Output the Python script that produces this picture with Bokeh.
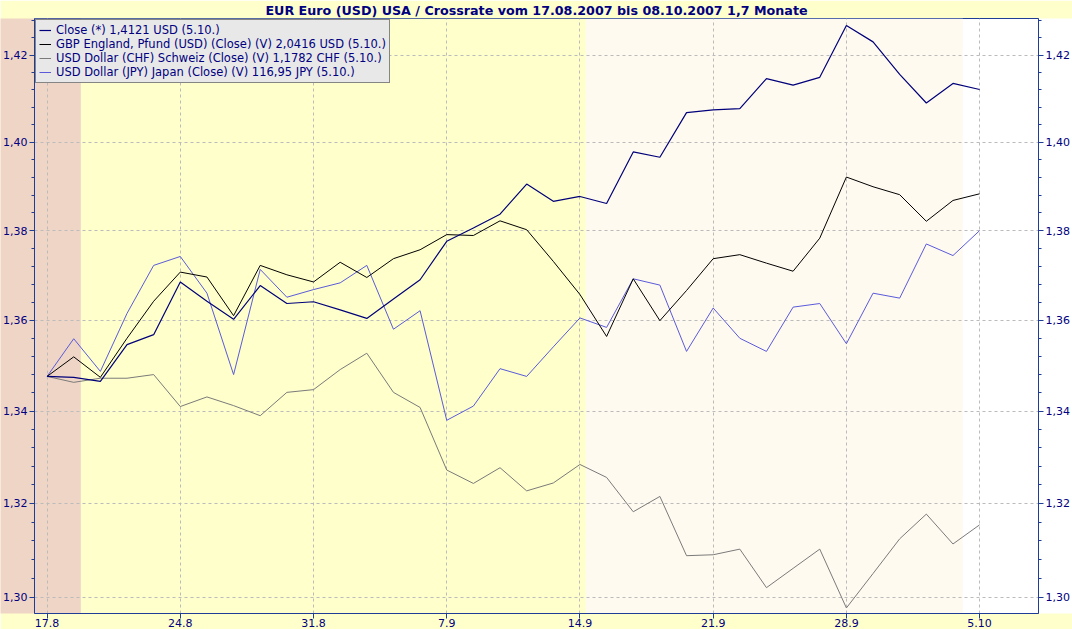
import numpy as np
from bokeh.plotting import figure
from bokeh.models import (Range1d, FixedTicker, LogAxis, BoxAnnotation, Legend,
                          LegendItem)
from bokeh.embed import file_html
from bokeh.resources import INLINE

# ---------------- data ----------------
days = ["17.8", "20.8", "21.8", "22.8", "23.8", "24.8", "27.8", "28.8", "29.8",
        "30.8", "31.8", "3.9", "4.9", "5.9", "6.9", "7.9", "10.9", "11.9",
        "12.9", "13.9", "14.9", "17.9", "18.9", "19.9", "20.9", "21.9", "24.9",
        "25.9", "26.9", "27.9", "28.9", "1.10", "2.10", "3.10", "4.10", "5.10"]

x_tick_labels = ["17.8", "24.8", "31.8", "7.9", "14.9", "21.9", "28.9", "5.10"]

y_ticks = [1.30, 1.32, 1.34, 1.36, 1.38, 1.40, 1.42]
y_tick_labels = ["1,30", "1,32", "1,34", "1,36", "1,38", "1,40", "1,42"]

eur_usd = [1.3476, 1.3474, 1.3465, 1.3546, 1.3568, 1.3685, 1.3642, 1.3602,
           1.3677, 1.3637, 1.3641, 1.3623, 1.3604, 1.3647, 1.3690, 1.3776,
           1.3806, 1.3837, 1.3905, 1.3866, 1.3877, 1.3861, 1.3978, 1.3966,
           1.4068, 1.4074, 1.4077, 1.4146, 1.4131, 1.4149, 1.4269, 1.4231,
           1.4156, 1.4090, 1.4135, 1.4121]

gbp_usd = [1.3476, 1.3519, 1.3474, 1.3560, 1.3642, 1.3707, 1.3696, 1.3610,
           1.3722, 1.3701, 1.3685, 1.3729, 1.3695, 1.3737, 1.3757, 1.3791,
           1.3789, 1.3822, 1.3802, 1.3731, 1.3657, 1.3564, 1.3692, 1.3599,
           1.3666, 1.3737, 1.3746, 1.3727, 1.3709, 1.3783, 1.3921, 1.3899,
           1.3881, 1.3821, 1.3868, 1.3883]

usd_chf = [1.3476, 1.3463, 1.3472, 1.3472, 1.3480, 1.3410, 1.3431, 1.3412,
           1.3390, 1.3441, 1.3447, 1.3491, 1.3527, 1.3441, 1.3408, 1.3272,
           1.3243, 1.3277, 1.3227, 1.3244, 1.3284, 1.3256, 1.3182, 1.3215,
           1.3088, 1.3090, 1.3102, 1.3020, 1.3061, 1.3102, 1.2977, 1.3050,
           1.3124, 1.3177, 1.3113, 1.3154]

usd_jpy = [1.3476, 1.3559, 1.3487, 1.3615, 1.3722, 1.3742, 1.3660, 1.3480,
           1.3713, 1.3651, 1.3668, 1.3683, 1.3722, 1.3580, 1.3621, 1.3380,
           1.3411, 1.3493, 1.3476, 1.3541, 1.3605, 1.3584, 1.3692, 1.3678,
           1.3531, 1.3627, 1.3560, 1.3531, 1.3629, 1.3637, 1.3548, 1.3660,
           1.3649, 1.3770, 1.3744, 1.3800]

series_labels = [
    "Close (*) 1,4121 USD (5.10.)",
    "GBP England, Pfund (USD) (Close) (V) 2,0416 USD (5.10.)",
    "USD Dollar (CHF) Schweiz (Close) (V) 1,1782 CHF (5.10.)",
    "USD Dollar (JPY) Japan (Close) (V) 116,95 JPY (5.10.)",
]

# shaded periods, as trading-day index positions
band_edges = [1.27, 20.22, 34.37]

title_text = "EUR Euro (USD) USA / Crossrate vom 17.08.2007 bis 08.10.2007 1,7 Monate"

# ---------------- styling ----------------
NAVY = "#000080"
AXIS = "#1f3c96"
FONT = "DejaVu Sans"
PINK = "#EFD5C6"
YELLOW = "#FFFFCC"
BEIGE = "#FFFAF0"
W, H = 1072, 629

x = np.arange(len(days))
x_tick_pos = [days.index(d) for d in x_tick_labels]

minor = [round(v, 3) for v in np.arange(1.296, 1.4285, 0.004)]
minor = [m for m in minor if all(abs(m - t) > 1e-6 for t in y_ticks)]

p = figure(width=W, height=H, x_range=Range1d(-0.472, 37.21),
           y_range=Range1d(1.29653, 1.42853), y_axis_type="log",
           output_backend="svg", toolbar_location=None,
           min_border_left=33, min_border_right=33, min_border_top=0,
           min_border_bottom=0)

p.background_fill_color = "white"
p.border_fill_color = YELLOW
p.outline_line_color = AXIS
p.outline_line_width = 1

p.title.text = title_text
p.title.align = "center"
p.title.text_font = FONT
p.title.text_font_size = "12.7px"
p.title.text_font_style = "bold"
p.title.text_color = NAVY
p.title.standoff = 1

# background bands
band_colors = [PINK, YELLOW, BEIGE]
lefts = [-1.0] + band_edges[:-1]
for lft, rgt, col in zip(lefts, band_edges, band_colors):
    p.add_layout(BoxAnnotation(left=lft, right=rgt,
                               fill_color=col, fill_alpha=1.0,
                               line_color=None, level="image"))

# axes
xt = FixedTicker(ticks=x_tick_pos, minor_ticks=[])
yt = FixedTicker(ticks=y_ticks, minor_ticks=minor)

p.xaxis.ticker = xt
p.xaxis.major_label_overrides = {pos: lab for pos, lab in zip(x_tick_pos, x_tick_labels)}
ylab = {v: lab for v, lab in zip(y_ticks, y_tick_labels)}
p.yaxis.ticker = yt
p.yaxis.major_label_overrides = ylab

right_axis = LogAxis(ticker=yt, major_label_overrides=ylab)
p.add_layout(right_axis, "right")

for ax in [p.xaxis[0], p.yaxis[0], right_axis]:
    ax.axis_line_color = AXIS
    ax.major_tick_line_color = AXIS
    ax.minor_tick_line_color = AXIS
    ax.major_tick_out = 5
    ax.major_tick_in = 0
    ax.minor_tick_out = 3
    ax.minor_tick_in = 0
    ax.major_label_text_font = FONT
    ax.major_label_text_font_size = "11px"
    ax.major_label_text_color = NAVY
    ax.major_label_standoff = 2
p.xaxis.minor_tick_out = 0
p.xaxis.major_label_standoff = 0
if "background_fill_color" in p.yaxis[0].properties():
    p.yaxis[0].background_fill_color = PINK
    right_axis.background_fill_color = "white"

p.xgrid.ticker = xt
p.ygrid.ticker = yt
for g in [p.xgrid[0], p.ygrid[0]]:
    g.grid_line_color = "#BBBBBB"
    g.grid_line_dash = "3 3"
    g.grid_line_width = 1

# lines
r_jpy = p.line(x, usd_jpy, line_color="#5A5ADA", line_width=1)
r_chf = p.line(x, usd_chf, line_color="#7A7A7A", line_width=1)
r_gbp = p.line(x, gbp_usd, line_color="#000000", line_width=1)
r_eur = p.line(x, eur_usd, line_color="#00007A", line_width=1.2)

legend = Legend(items=[LegendItem(label=series_labels[0], renderers=[r_eur]),
                       LegendItem(label=series_labels[1], renderers=[r_gbp]),
                       LegendItem(label=series_labels[2], renderers=[r_chf]),
                       LegendItem(label=series_labels[3], renderers=[r_jpy])],
                location="top_left")
legend.margin = 1
legend.padding = 3
legend.spacing = 0
legend.label_height = 12
legend.glyph_height = 12
legend.glyph_width = 12
legend.label_standoff = 5
legend.label_text_font = FONT
legend.label_text_font_size = "11.5px"
legend.label_text_color = NAVY
legend.background_fill_color = "#E8E8E8"
legend.background_fill_alpha = 1.0
legend.border_line_color = "#222222"
legend.border_line_width = 1
p.add_layout(legend)

open("out.html", "w").write(file_html(p, INLINE))
